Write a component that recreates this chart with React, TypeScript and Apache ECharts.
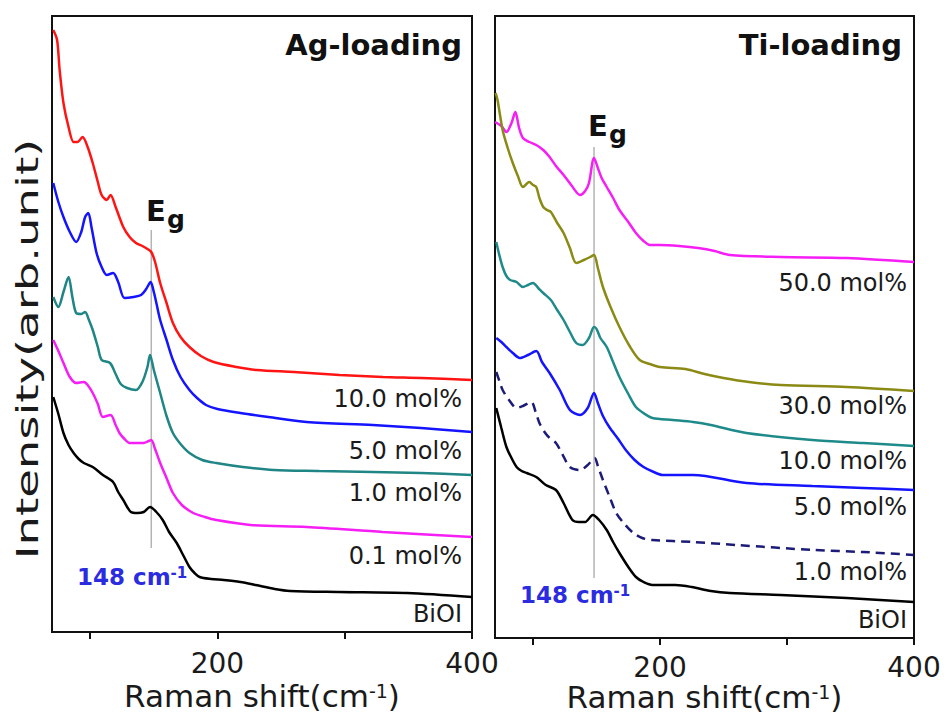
import React, { useEffect, useRef } from "react";
import * as echarts from "echarts";

// ---- axis ticks ----
const xMin = 70;
const xMax = 400;
const xTickValues = [100, 200, 300, 400];
const xLabelValues = [200, 400];
const egShift = 148;

// ---- Ag-loading panel (Raman shift, intensity arb. unit) ----
const agLabels = ["10.0 mol%", "5.0 mol%", "1.0 mol%", "0.1 mol%", "BiOI"];
const ag10 = [[71,602],[74,592],[76,562],[79,529],[83,505],[87,490],[90,490],[94,495],[98,485],[102,469],[106,450],[109,437],[113,432],[116,437],[120,425],[126,405],[131,395],[136,389],[141,386],[145,383],[148,380],[151,370],[155,349],[160,329],[165,309],[171,295],[178,285],[187,276],[197,270],[215,265],[231,262],[260,260],[296,257],[330,255],[360,254],[400,252]];
const ag5 = [[71,449],[75,430],[79,415],[84,400],[89,390],[93,400],[96,415],[98.5,419],[101,405],[105,379],[109,365],[113,357],[118,359],[122,350],[127,334],[134,335],[140,337],[144,343],[147.5,350],[150,340],[152,329],[155,312],[160,292],[165,272],[171,255],[178,242],[184,234],[191,227],[200,223],[218,219],[240,215],[270,210],[322,207],[360,204],[400,200]];
const ag1 = [[71,335],[75,325],[79,340],[83,355],[86,335],[89,319],[93,318],[96,320],[99,312],[102,302],[106,285],[109,272],[115.6,269],[120,258],[124,248],[129,244],[136,242],[141,250],[145,265],[147,277],[150,262],[155,239],[160,216],[165,199],[171,188],[178,179],[188,172],[199,169],[220,165],[244,162],[280,161],[322,160],[360,159],[400,157]];
const ag01 = [[71,292],[75,281],[79,269],[84,255],[89,249],[95,250],[98,247],[102,239],[106,228],[110,215],[116,217],[120,207],[123,199],[127,193],[131,189],[137,189],[142,189],[146,191],[148,192],[151,183],[155,169],[160,154],[165,139],[172,127],[181,119],[190,115],[199,112],[226,107],[270,105],[330,100],[400,95]];
const agBiOI = [[71,235],[75,218],[79,199],[83,187],[87,179],[91,173],[95,169],[102,165],[110,157],[118,150],[122,140],[126,132],[132,120],[137,119],[142,120],[147,125],[152,120],[157,112],[162,100],[168,89],[173,77],[178,65],[182,59],[186,55],[195,53],[205,52],[218,50],[230,47],[245,43],[257,41],[296,40],[349,39],[400,35]];
const agEgLine = [84, 402];

// ---- Ti-loading panel ----
const tiLabels = ["50.0 mol%", "30.0 mol%", "10.0 mol%", "5.0 mol%", "1.0 mol%", "BiOI"];
const ti50 = [[70,516],[75,512],[79,506],[83,515],[86,526],[89,510],[92,500],[97,496],[102.5,493],[108,488],[113,481],[118,472],[124,463],[130,453],[137,443],[141,447],[144,455],[148,480],[151,470],[154,460],[158,451],[163,440],[168,428],[175,416],[181,405],[187,397],[192,393],[200,393],[215,392],[230,390],[243,387],[255,383],[295,381],[347,380],[400,376]];
const ti30 = [[70.5,545],[72,538],[76,508],[80,490],[84,475],[88,462],[92,451],[97,456],[100,453],[102.5,451],[105,440],[108,431],[111,428],[114,426],[119,415],[124,405],[129,390],[134,375],[140,378],[145,381],[148,383],[151,370],[155,351],[161,331],[168,311],[176,292],[184,278],[192,274],[200,271],[220,269],[235,264],[250,260],[270,256],[295,253],[347,251],[400,247]];
const ti10 = [[71,396],[73,385],[76,371],[79,362],[82,358],[87,356],[92,351],[96,353],[100,355],[104,350],[108,345],[114,338],[119,328],[124,318],[129,306],[134,295],[139,293],[144,300],[148,311],[150,309],[153,300],[158,291],[163,276],[168,261],[175,244],[181,231],[188,224],[194,220],[210,218],[226,216],[240,213],[268,205],[320,198],[360,195],[400,192]];
const ti5 = [[71,300],[75,296],[79,291],[84,285],[89.5,280],[96,283],[102.5,287],[107,276],[113,265],[121,248],[129,228],[137,223],[143,230],[148,245],[151,235],[155,222],[160,211],[167,199],[173,188],[180,178],[187,171],[195,166],[202,163],[226,163],[268,155],[320,152],[360,150],[400,148]];
const ti1 = [[71,266],[74,255],[76,248],[81,238],[87,230],[92,232],[98.6,236],[102,226],[105,215],[109,206],[113,200],[118,195],[123,184],[129,171],[137,168],[143,173],[148.5,180],[151,172],[155,158],[160,142],[165.5,125],[172,114],[179,105],[186,100],[194,98],[226,96],[260,93],[321,88],[360,86],[400,83]];
const tiBiOI = [[71,230],[75,210],[79,191],[83,180],[87,171],[91,167],[95,165],[102.5,161],[110,153],[118,148],[124,135],[131,118],[136,116],[141,116],[147,123],[152,118],[158,108],[163,96],[168,85],[175,71],[181,61],[187,56],[194,53],[212,53],[225,51],[240,47],[255,45],[295,43],[347,40],[400,36]];
const tiEgLine = [60, 491];

const FONT = '"DejaVu Sans", "Liberation Sans", Arial, sans-serif';
const TXT = "#1a1a1a";

function curve(name: string, data: number[][], color: string, axis: number, dashed = false) {
  return {
    type: "line",
    name,
    data,
    xAxisIndex: axis,
    yAxisIndex: axis,
    symbol: "none",
    showSymbol: false,
    smooth: 0.3,
    silent: true,
    z: 3,
    lineStyle: { color, width: 2.5, type: dashed ? [9, 6] : "solid" },
  };
}

function egLine(range: number[], axis: number) {
  return {
    type: "line",
    data: [[egShift, range[0]], [egShift, range[1]]],
    xAxisIndex: axis,
    yAxisIndex: axis,
    symbol: "none",
    silent: true,
    z: 2,
    lineStyle: { color: "#b4b4b4", width: 1.5 },
  };
}

function xAxis(gridIndex: number, labelMargin: number, nameGap: number) {
  return {
    type: "value",
    gridIndex,
    min: xMin,
    max: xMax,
    splitLine: { show: false },
    axisLine: { show: true, onZero: false, lineStyle: { color: "#111", width: 2 } },
    axisTick: { show: true, customValues: xTickValues, length: 7, lineStyle: { color: "#111", width: 2 } },
    axisLabel: { customValues: xLabelValues, fontFamily: FONT, fontSize: 28, color: TXT, margin: labelMargin },
    name: "{a|Raman shift(cm}{b|-1}{a|)}",
    nameLocation: "middle",
    nameGap,
    nameMoveOverlap: false,
    nameTextStyle: {
      lineHeight: 30,
      rich: {
        a: { fontFamily: FONT, fontSize: 31, lineHeight: 30, color: TXT },
        b: { fontFamily: FONT, fontSize: 19, lineHeight: 22, color: TXT, verticalAlign: "top" },
      },
    },
  };
}

function txt(text: string, x: number, y: number, size: number, align = "right", bold = false, color = TXT) {
  return {
    type: "text",
    x,
    y,
    silent: true,
    style: {
      text,
      fontFamily: FONT,
      fontSize: size,
      fontWeight: bold ? "bold" : "normal",
      fill: color,
      align,
      textAlign: align,
      verticalAlign: "middle",
      textVerticalAlign: "middle",
    },
  };
}

function shiftLabel(x: number, y: number) {
  return {
    type: "text",
    x,
    y,
    silent: true,
    style: {
      text: "{a|148 cm}{b|-1}",
      align: "left",
      verticalAlign: "middle",
      rich: {
        a: { fontFamily: FONT, fontSize: 23, fontWeight: "bold", fill: "#2b2be0", color: "#2b2be0" },
        b: { fontFamily: FONT, fontSize: 15, fontWeight: "bold", fill: "#2b2be0", color: "#2b2be0", verticalAlign: "top" },
      },
    },
  };
}

export default function App() {
  const ref = useRef<HTMLDivElement>(null);
  useEffect(() => {
    if (!ref.current) return;
    const chart = echarts.init(ref.current, undefined, { renderer: "svg" });
    const option: any = {
      animation: false,
      backgroundColor: "#ffffff",
      grid: [
        { left: 52, top: 16, width: 420, height: 616, show: true, borderColor: "#111", borderWidth: 2, containLabel: false, outerBoundsMode: "none" },
        { left: 495, top: 16, width: 419, height: 622, show: true, borderColor: "#111", borderWidth: 2, containLabel: false, outerBoundsMode: "none" },
      ],
      xAxis: [xAxis(0, 17, 49), xAxis(1, 15, 44)],
      yAxis: [
        { type: "value", gridIndex: 0, min: 0, max: 616, show: false },
        { type: "value", gridIndex: 1, min: 0, max: 622, show: false },
      ],
      series: [
        egLine(agEgLine, 0),
        curve(agLabels[0], ag10, "#ff1414", 0),
        curve(agLabels[1], ag5, "#1414ff", 0),
        curve(agLabels[2], ag1, "#1f8585", 0),
        curve(agLabels[3], ag01, "#f51ef5", 0),
        curve(agLabels[4], agBiOI, "#000000", 0),
        egLine(tiEgLine, 1),
        curve(tiLabels[0], ti50, "#f51ef5", 1),
        curve(tiLabels[1], ti30, "#8a8a14", 1),
        curve(tiLabels[2], ti10, "#1f8a8a", 1),
        curve(tiLabels[3], ti5, "#1414ff", 1),
        curve(tiLabels[4], ti1, "#1c1c78", 1, true),
        curve(tiLabels[5], tiBiOI, "#000000", 1),
      ],
      graphic: [
        {
          type: "text",
          x: 28,
          y: 349,
          rotation: Math.PI / 2,
          scaleX: 1.55,
          silent: true,
          style: {
            text: "Intensity(arb.unit)",
            fontFamily: FONT,
            fontSize: 30,
            fill: TXT,
            align: "center",
            textAlign: "center",
            verticalAlign: "middle",
            textVerticalAlign: "middle",
          },
        },
        txt("Ag-loading", 462, 45, 29, "right", true, "#111"),
        txt("Ti-loading", 902, 45, 29, "right", true, "#111"),
        txt("E", 146, 211, 29, "left", true, "#111"),
        txt("g", 167, 219, 25, "left", true, "#111"),
        txt("E", 588, 126, 29, "left", true, "#111"),
        txt("g", 609, 134, 25, "left", true, "#111"),
        shiftLabel(77, 577),
        shiftLabel(520, 595),
        txt(agLabels[0], 462, 399, 24),
        txt(agLabels[1], 462, 451, 24),
        txt(agLabels[2], 462, 493, 24),
        txt(agLabels[3], 462, 556, 24),
        txt(agLabels[4], 462, 614, 24),
        txt(tiLabels[0], 907, 283, 24),
        txt(tiLabels[1], 907, 406, 24),
        txt(tiLabels[2], 907, 461, 24),
        txt(tiLabels[3], 907, 507, 24),
        txt(tiLabels[4], 907, 572, 24),
        txt(tiLabels[5], 907, 620, 24),
      ],
    };
    chart.setOption(option);
    return () => chart.dispose();
  }, []);
  return (
    <div
      ref={ref}
      style={{ position: "fixed", left: 0, top: 0, width: 944, height: 716, background: "#fff" }}
    />
  );
}
